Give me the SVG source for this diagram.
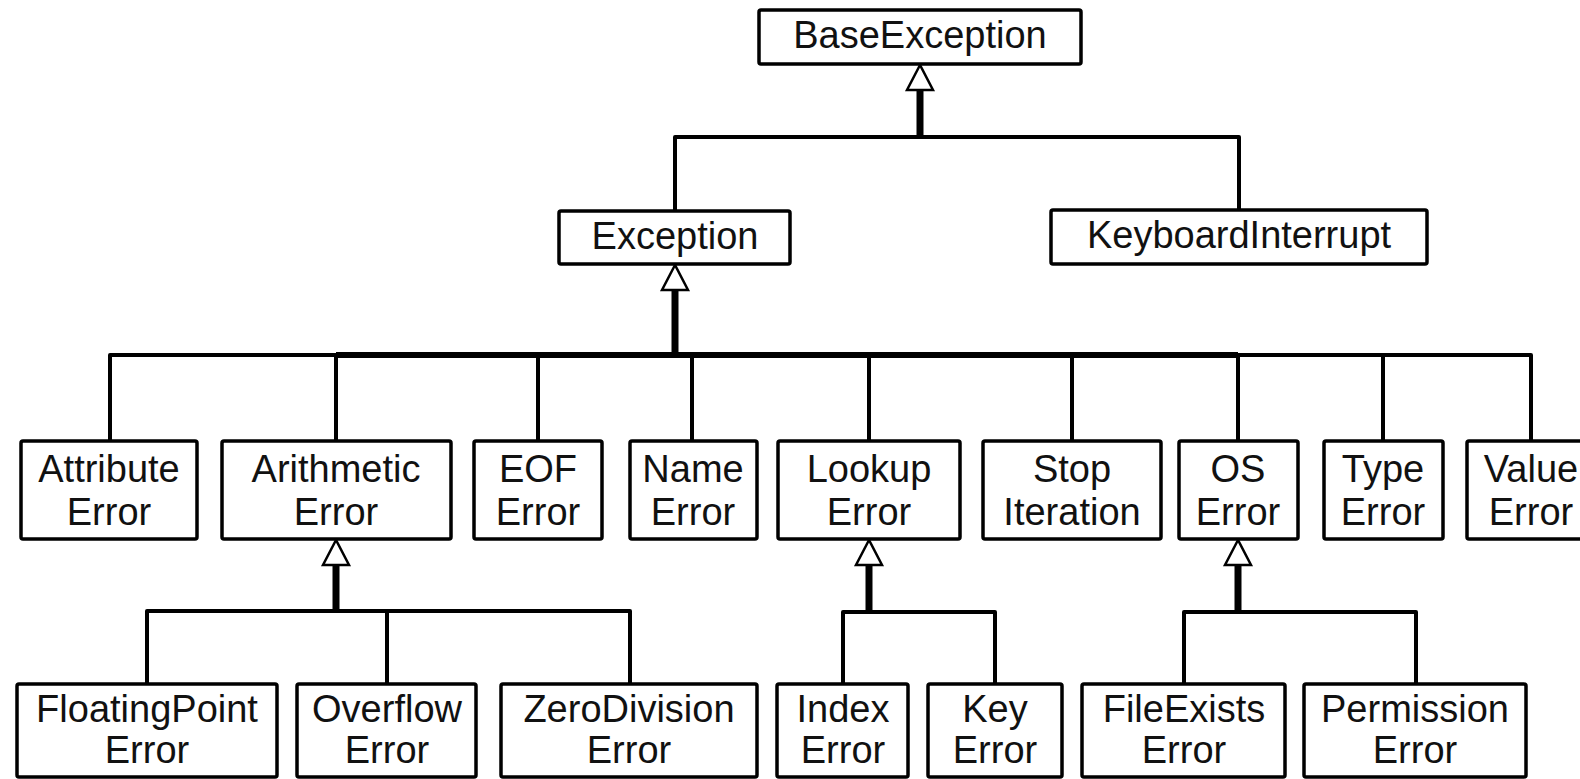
<svg xmlns="http://www.w3.org/2000/svg" width="1580" height="779" viewBox="0 0 1580 779">
<defs>
<style>
.box{fill:#fff;stroke:#000;stroke-width:3.5;rx:2}
.t{font-family:"Liberation Sans",Arial,sans-serif;font-size:38px;fill:#111;text-anchor:middle}
.ln{fill:none;stroke:#000;stroke-width:4;stroke-linejoin:round}
.stem{fill:none;stroke:#000;stroke-width:7}
.arr{fill:#fff;stroke:#000;stroke-width:2.5;stroke-linejoin:miter}
</style>
</defs>
<rect width="1580" height="779" fill="#fff"/>
<g id="connectors">
<path class="ln" d="M675,211 V137 H1239 V210"/>
<line class="stem" x1="920" y1="88" x2="920" y2="139"/>
<polygon class="arr" points="920,65 907,90 933,90"/>
<path class="ln" d="M110,441 V355 H1531 V441"/>
<line class="ln" x1="336" y1="355" x2="1238" y2="355" style="stroke-width:6"/>
<line class="ln" x1="336" y1="355" x2="336" y2="441"/>
<line class="ln" x1="538" y1="355" x2="538" y2="441"/>
<line class="ln" x1="692" y1="355" x2="692" y2="441"/>
<line class="ln" x1="869" y1="355" x2="869" y2="441"/>
<line class="ln" x1="1072" y1="355" x2="1072" y2="441"/>
<line class="ln" x1="1238" y1="355" x2="1238" y2="441"/>
<line class="ln" x1="1383" y1="355" x2="1383" y2="441"/>
<line class="stem" x1="675" y1="288" x2="675" y2="357"/>
<polygon class="arr" points="675,265 662,290 688,290"/>
<path class="ln" d="M147,684 V611 H630 V684"/>
<line class="ln" x1="387" y1="611" x2="387" y2="684"/>
<line class="stem" x1="336" y1="563" x2="336" y2="613"/>
<polygon class="arr" points="336,540 323,565 349,565"/>
<path class="ln" d="M843,684 V612 H995 V684"/>
<line class="stem" x1="869" y1="563" x2="869" y2="614"/>
<polygon class="arr" points="869,540 856,565 882,565"/>
<path class="ln" d="M1184,684 V612 H1416 V684"/>
<line class="stem" x1="1238" y1="563" x2="1238" y2="614"/>
<polygon class="arr" points="1238,540 1225,565 1251,565"/>
</g>
<g id="BaseException"><rect class="box" x="759" y="10" width="322" height="54"/><text class="t" x="920" y="48">BaseException</text></g>
<g id="Exception"><rect class="box" x="559" y="211" width="231" height="53"/><text class="t" x="675" y="249">Exception</text></g>
<g id="KeyboardInterrupt"><rect class="box" x="1051" y="210" width="376" height="54"/><text class="t" x="1239" y="248">KeyboardInterrupt</text></g>
<g id="AttributeError"><rect class="box" x="21" y="441" width="176" height="98"/><text class="t" x="109" y="482">Attribute</text><text class="t" x="109" y="525">Error</text></g>
<g id="ArithmeticError"><rect class="box" x="222" y="441" width="229" height="98"/><text class="t" x="336" y="482">Arithmetic</text><text class="t" x="336" y="525">Error</text></g>
<g id="EOFError"><rect class="box" x="474" y="441" width="128" height="98"/><text class="t" x="538" y="482">EOF</text><text class="t" x="538" y="525">Error</text></g>
<g id="NameError"><rect class="box" x="630" y="441" width="127" height="98"/><text class="t" x="693" y="482">Name</text><text class="t" x="693" y="525">Error</text></g>
<g id="LookupError"><rect class="box" x="778" y="441" width="182" height="98"/><text class="t" x="869" y="482">Lookup</text><text class="t" x="869" y="525">Error</text></g>
<g id="StopIteration"><rect class="box" x="983" y="441" width="178" height="98"/><text class="t" x="1072" y="482">Stop</text><text class="t" x="1072" y="525">Iteration</text></g>
<g id="OSError"><rect class="box" x="1179" y="441" width="119" height="98"/><text class="t" x="1238" y="482">OS</text><text class="t" x="1238" y="525">Error</text></g>
<g id="TypeError"><rect class="box" x="1324" y="441" width="119" height="98"/><text class="t" x="1383" y="482">Type</text><text class="t" x="1383" y="525">Error</text></g>
<g id="ValueError"><rect class="box" x="1467" y="441" width="128" height="98"/><text class="t" x="1531" y="482">Value</text><text class="t" x="1531" y="525">Error</text></g>
<g id="FloatingPointError"><rect class="box" x="17" y="684" width="260" height="93"/><text class="t" x="147" y="722">FloatingPoint</text><text class="t" x="147" y="763">Error</text></g>
<g id="OverflowError"><rect class="box" x="297" y="684" width="179" height="93"/><text class="t" x="387" y="722">Overflow</text><text class="t" x="387" y="763">Error</text></g>
<g id="ZeroDivisionError"><rect class="box" x="501" y="684" width="256" height="93"/><text class="t" x="629" y="722">ZeroDivision</text><text class="t" x="629" y="763">Error</text></g>
<g id="IndexError"><rect class="box" x="777" y="684" width="131" height="93"/><text class="t" x="843" y="722">Index</text><text class="t" x="843" y="763">Error</text></g>
<g id="KeyError"><rect class="box" x="928" y="684" width="134" height="93"/><text class="t" x="995" y="722">Key</text><text class="t" x="995" y="763">Error</text></g>
<g id="FileExistsError"><rect class="box" x="1082" y="684" width="203" height="93"/><text class="t" x="1184" y="722">FileExists</text><text class="t" x="1184" y="763">Error</text></g>
<g id="PermissionError"><rect class="box" x="1304" y="684" width="222" height="93"/><text class="t" x="1415" y="722">Permission</text><text class="t" x="1415" y="763">Error</text></g>
</svg>
